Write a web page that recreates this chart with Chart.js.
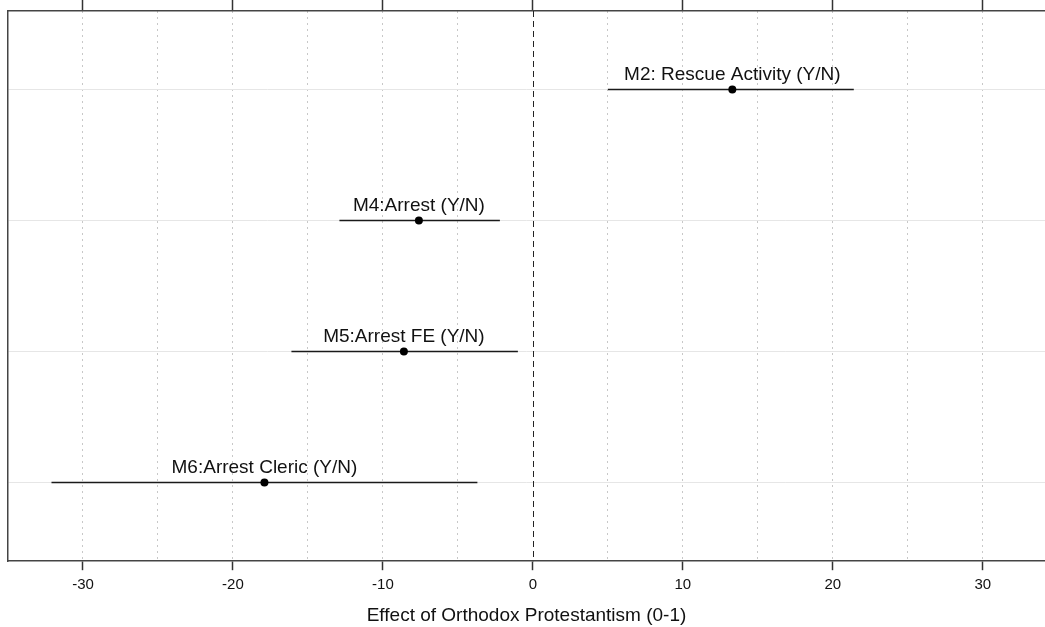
<!DOCTYPE html>
<html>
<head>
<meta charset="utf-8">
<script src="https://cdn.jsdelivr.net/npm/chart.js@4/dist/chart.umd.min.js"></script>
<style>
  body { margin: 0; background: #fff; }
  #wrap { width: 1045px; height: 627px; }
</style>
</head>
<body>
<div id="wrap"><canvas id="chart"></canvas></div>
<script>
// model estimates with confidence intervals
const models = ['M2: Rescue Activity (Y/N)', 'M4:Arrest (Y/N)', 'M5:Arrest FE (Y/N)', 'M6:Arrest Cleric (Y/N)'];
const rows = [1, 2, 3, 4];
const estimates = [13.3, -7.6, -8.6, -17.9];
const lower = [5.0, -12.9, -16.1, -32.1];
const upper = [21.4, -2.2, -1.0, -3.7];
const xTicks = [-30, -25, -20, -15, -10, -5, 0, 5, 10, 15, 20, 25, 30];

const FONT = 'Liberation Sans, Arial, Helvetica, sans-serif';

// no extra side padding for the horizontal axes
const noSidePad = axis => { axis.paddingLeft = 0; axis.paddingRight = 0; };

// dashed reference line at zero
const zeroLine = {
  id: 'zeroLine',
  beforeDatasetsDraw(chart) {
    const { ctx, chartArea, scales } = chart;
    const x = Math.round(scales.x.getPixelForValue(0)) + 0.5;
    ctx.save();
    ctx.strokeStyle = '#222';
    ctx.lineWidth = 1;
    ctx.setLineDash([6, 4]);
    ctx.beginPath();
    ctx.moveTo(x, chartArea.top);
    ctx.lineTo(x, chartArea.bottom);
    ctx.stroke();
    ctx.restore();
  }
};

// model names above each point
const modelLabels = {
  id: 'modelLabels',
  afterDatasetsDraw(chart) {
    const { ctx, scales } = chart;
    ctx.save();
    ctx.font = '19px ' + FONT;
    ctx.fillStyle = '#111';
    ctx.textAlign = 'center';
    ctx.textBaseline = 'alphabetic';
    models.forEach((m, i) => {
      const x = scales.x.getPixelForValue(estimates[i]);
      const y = scales.y.getPixelForValue(rows[i]);
      ctx.fillText(m, x, y - 10);
    });
    ctx.restore();
  }
};

const intervals = models.map((m, i) => ({
  type: 'line',
  data: [{ x: lower[i], y: rows[i] }, { x: upper[i], y: rows[i] }],
  borderColor: '#1a1a1a',
  borderWidth: 1.5,
  pointRadius: 0
}));

new Chart(document.getElementById('chart'), {
  type: 'scatter',
  data: {
    datasets: [{
      data: estimates.map((v, i) => ({ x: v, y: rows[i] })),
      backgroundColor: '#000',
      borderColor: '#000',
      pointRadius: 4,
      borderWidth: 0
    }].concat(intervals)
  },
  options: {
    responsive: true,
    maintainAspectRatio: false,
    animation: false,
    layout: { autoPadding: false, padding: { left: 8, top: 0, right: 0, bottom: 0 } },
    plugins: { legend: { display: false }, tooltip: { enabled: false } },
    scales: {
      x: {
        type: 'linear',
        position: 'bottom',
        min: -35,
        max: 34.15,
        afterBuildTicks: axis => { axis.ticks = xTicks.map(v => ({ value: v })); },
        afterFit: noSidePad,
        ticks: {
          callback: v => (v % 10 === 0 ? String(v) : ''),
          font: { family: FONT, size: 15 },
          color: '#111',
          maxRotation: 0,
          autoSkip: false,
          padding: 6
        },
        grid: {
          color: c => (c.tick && c.tick.value !== 0 ? '#c8c8c8' : 'rgba(0,0,0,0)'),
          tickColor: c => (c.tick && c.tick.value % 10 === 0 ? '#333' : 'rgba(0,0,0,0)'),
          tickLength: 9,
          tickWidth: 1.5,
          tickBorderDash: []
        },
        border: { display: true, color: '#444', width: 1.5, dash: [2, 4] },
        title: {
          display: true,
          text: 'Effect of Orthodox Protestantism (0-1)',
          font: { family: FONT, size: 19 },
          color: '#111',
          padding: { top: 4, bottom: 0 }
        }
      },
      x2: {
        type: 'linear',
        position: 'top',
        min: -35,
        max: 34.15,
        afterBuildTicks: axis => { axis.ticks = xTicks.filter(v => v % 10 === 0).map(v => ({ value: v })); },
        afterFit: noSidePad,
        ticks: { display: false },
        grid: { drawOnChartArea: false, tickLength: 11, tickColor: '#333', tickWidth: 1.5 },
        border: { display: true, color: '#444', width: 1.5 }
      },
      y: {
        type: 'linear',
        reverse: true,
        min: 0.4,
        max: 4.6,
        afterBuildTicks: axis => { axis.ticks = rows.map(v => ({ value: v })); },
        ticks: { display: false },
        grid: { color: '#e6e6e6', drawTicks: false },
        border: { display: true, color: '#444', width: 1.5 }
      }
    }
  },
  plugins: [zeroLine, modelLabels]
});
</script>
</body>
</html>
